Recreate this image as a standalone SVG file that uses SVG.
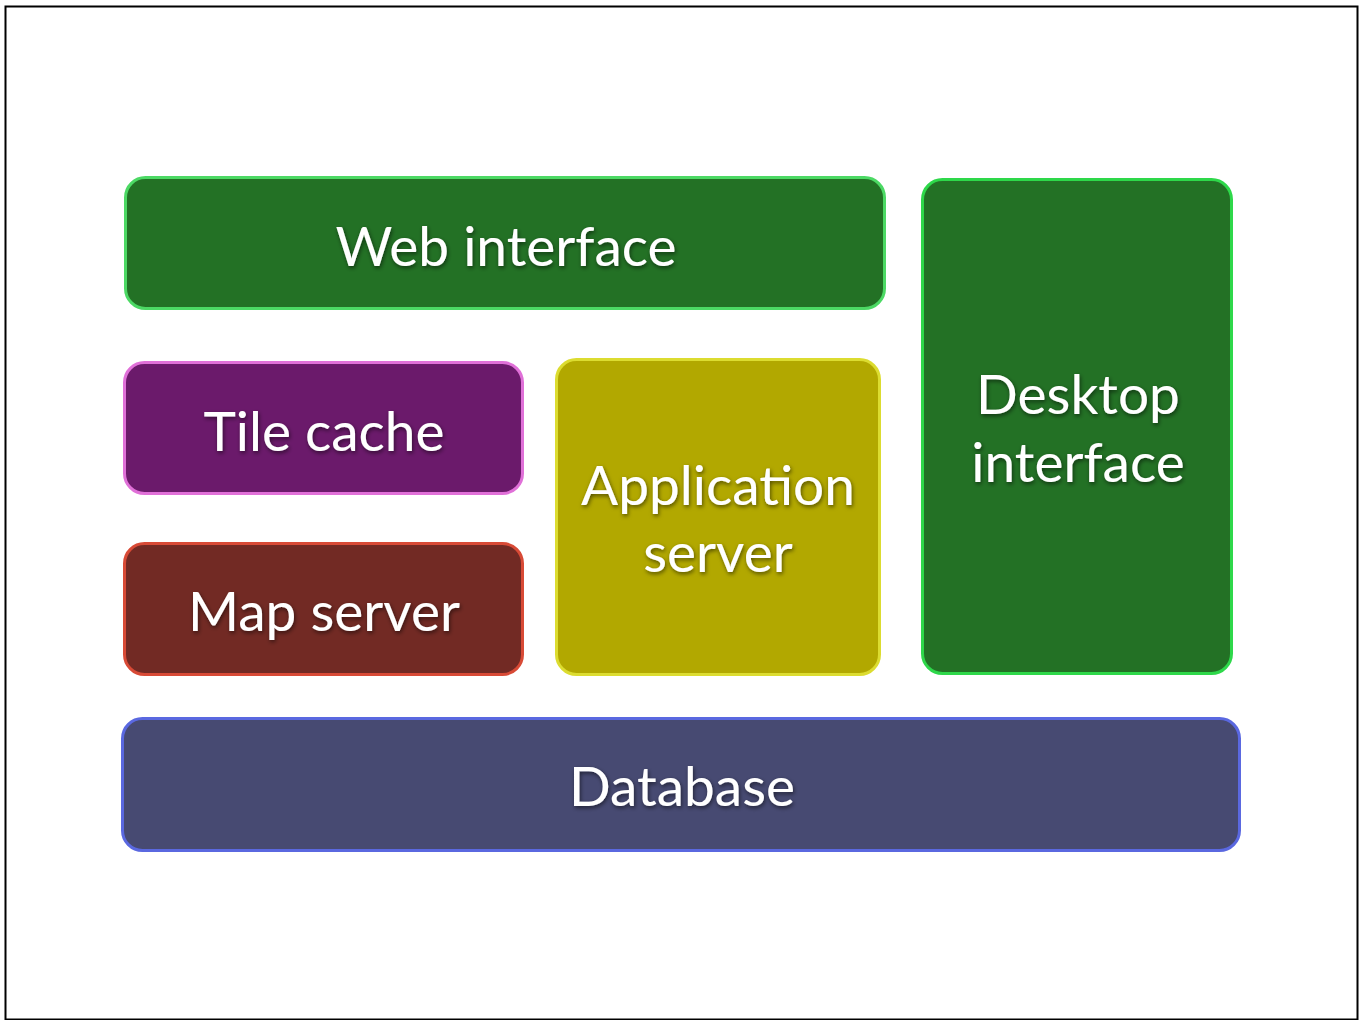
<svg xmlns="http://www.w3.org/2000/svg" width="1364" height="1020" viewBox="0 0 1364 1020">
<defs>
<filter id="ts" x="-10%" y="-30%" width="120%" height="160%">
<feDropShadow dx="1" dy="2" stdDeviation="2" flood-color="#000" flood-opacity="0.55"/>
</filter>
<style>
.box{stroke-width:3}
.lbl{font-family:Lato,"Open Sans","Liberation Sans",sans-serif;font-size:55px;fill:#fff;text-anchor:middle;filter:url(#ts)}
</style>
</defs>
<rect x="0" y="0" width="1364" height="1020" fill="#fff"/>
<rect x="5.5" y="6.5" width="1352" height="1013" fill="none" stroke="#000" stroke-width="2"/>
<g id="web">
<rect class="box" x="125.5" y="177.5" width="759" height="131" rx="20" fill="#237125" stroke="#4cd964"/>
<text class="lbl" x="506" y="266">Web interface</text>
</g>
<g id="desktop">
<rect class="box" x="922.5" y="179.5" width="309" height="494" rx="20" fill="#237125" stroke="#2ed84a"/>
<text class="lbl" x="1078" y="414">Desktop</text>
<text class="lbl" x="1078" y="482">interface</text>
</g>
<g id="tile">
<rect class="box" x="124.5" y="362.5" width="398" height="131" rx="20" fill="#6b1a6b" stroke="#e070d8"/>
<text class="lbl" x="324" y="451">Tile cache</text>
</g>
<g id="app">
<rect class="box" x="556.5" y="359.5" width="323" height="315" rx="20" fill="#b2a800" stroke="#dcdc30"/>
<text class="lbl" x="718" y="505">Application</text>
<text class="lbl" x="718" y="572">server</text>
</g>
<g id="map">
<rect class="box" x="124.5" y="543.5" width="398" height="131" rx="20" fill="#722a24" stroke="#d84a36"/>
<text class="lbl" x="324" y="631">Map server</text>
</g>
<g id="db">
<rect class="box" x="122.5" y="718.5" width="1117" height="132" rx="20" fill="#474a72" stroke="#5a68e0"/>
<text class="lbl" x="682" y="806">Database</text>
</g>
<g id="connectors"/>
</svg>
